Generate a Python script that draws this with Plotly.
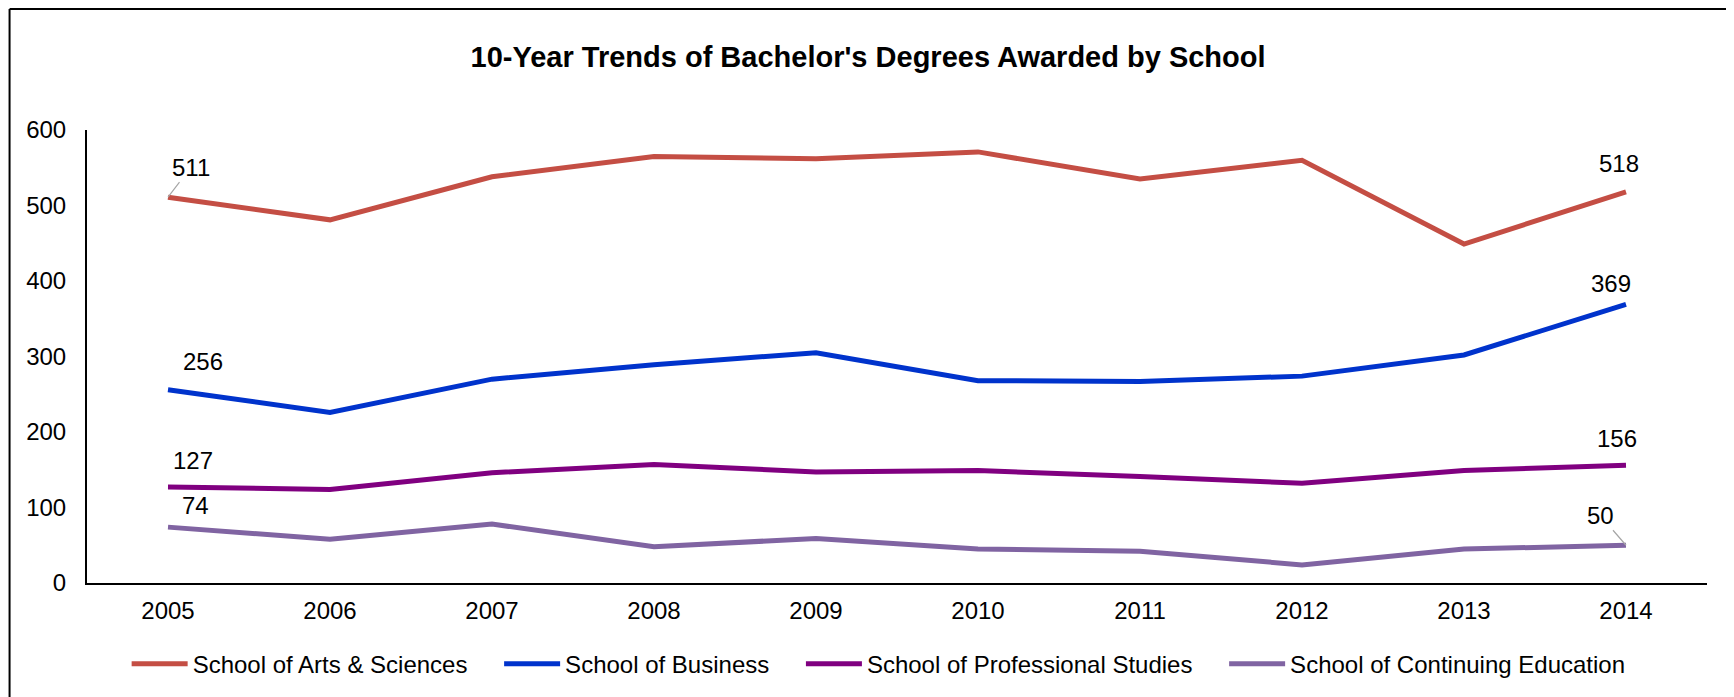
import plotly.graph_objects as go

years = ["2005", "2006", "2007", "2008", "2009", "2010", "2011", "2012", "2013", "2014"]

arts_sciences = [511, 481, 538, 565, 562, 571, 535, 560, 449, 518]
business = [256, 226, 270, 289, 305, 268, 267, 274, 302, 369]
professional = [127, 124, 146, 157, 147, 149, 141, 132, 149, 156]
continuing = [74, 58, 78, 48, 59, 45, 42, 24, 45, 50]

series_names = [
    "School of Arts & Sciences",
    "School of Business",
    "School of Professional Studies",
    "School of Continuing Education",
]
series_values = [arts_sciences, business, professional, continuing]
series_colors = ["#C44E44", "#0033CC", "#800080", "#8064A2"]

# label placement for first / last point of each series (pixels)
# (xshift, yshift, use_leader)
label_style = {
    0: [(23, -30, True), (-7, 28, False)],
    1: [(35, 28, False), (-15, 21, False)],
    2: [(25, 27, False), (-9, 27, False)],
    3: [(27, 22, False), (-26, -30, True)],
}

FONT = "Liberation Sans, Arial, sans-serif"
LEGEND_PAD = "\u00a0" * 4  # extra room between legend entries

fig = go.Figure()
for name, vals, color in zip(series_names, series_values, series_colors):
    fig.add_trace(
        go.Scatter(
            x=years,
            y=vals,
            name=name + LEGEND_PAD,
            mode="lines",
            line=dict(color=color, width=5),
            hoverinfo="skip",
        )
    )

annotations = []
for i, vals in enumerate(series_values):
    for pos, idx in enumerate([0, len(vals) - 1]):
        dx, dy, leader = label_style[i][pos]
        # x given as category index so it lands on the category, not on value 2005
        ann = dict(
            x=idx, y=vals[idx], xref="x", yref="y",
            text=str(vals[idx]),
            font=dict(family=FONT, size=24, color="#000000"),
        )
        if leader:
            ann.update(showarrow=True, arrowhead=0, arrowwidth=1.2,
                       arrowcolor="#A6A6A6", standoff=0, ax=dx, ay=dy)
        else:
            ann.update(showarrow=False, xshift=dx, yshift=dy)
        annotations.append(ann)

fig.update_layout(
    width=1734,
    height=697,
    autosize=False,
    paper_bgcolor="white",
    plot_bgcolor="white",
    margin=dict(l=79, r=35, t=122, b=122),
    font=dict(family=FONT, size=24, color="#000000"),
    title=dict(
        text="<b>10-Year Trends of Bachelor's Degrees Awarded by School</b>",
        x=0.496, xanchor="center", xref="container",
        y=1 - 49 / 697, yanchor="middle", yref="container",
        font=dict(family=FONT, size=29, color="#000000"),
    ),
    showlegend=True,
    legend=dict(
        orientation="h",
        x=0.497, xanchor="center",
        y=-0.179, yanchor="middle",
        font=dict(family=FONT, size=24, color="#000000"),
        itemwidth=56,
    ),
    annotations=annotations,
    shapes=[
        dict(type="line", xref="paper", yref="paper",
             x0=-0.0478, x1=-0.0478, y0=-0.3, y1=1.267,
             line=dict(color="black", width=2)),
        dict(type="line", xref="paper", yref="paper",
             x0=-0.0478, x1=1.05, y0=1.267, y1=1.267,
             line=dict(color="black", width=2)),
    ],
)

fig.update_xaxes(
    type="category",
    range=[-0.5, len(years) - 0.5],
    showline=True, linecolor="black", linewidth=2,
    showgrid=False, ticks="", zeroline=False,
    ticklabelstandoff=5,
    tickfont=dict(family=FONT, size=24, color="#000000"),
)
fig.update_yaxes(
    range=[0, 600], dtick=100,
    showline=True, linecolor="black", linewidth=2,
    showgrid=False, ticks="", zeroline=False,
    ticklabelstandoff=14,
    tickfont=dict(family=FONT, size=24, color="#000000"),
)

fig.write_html("out.html")
